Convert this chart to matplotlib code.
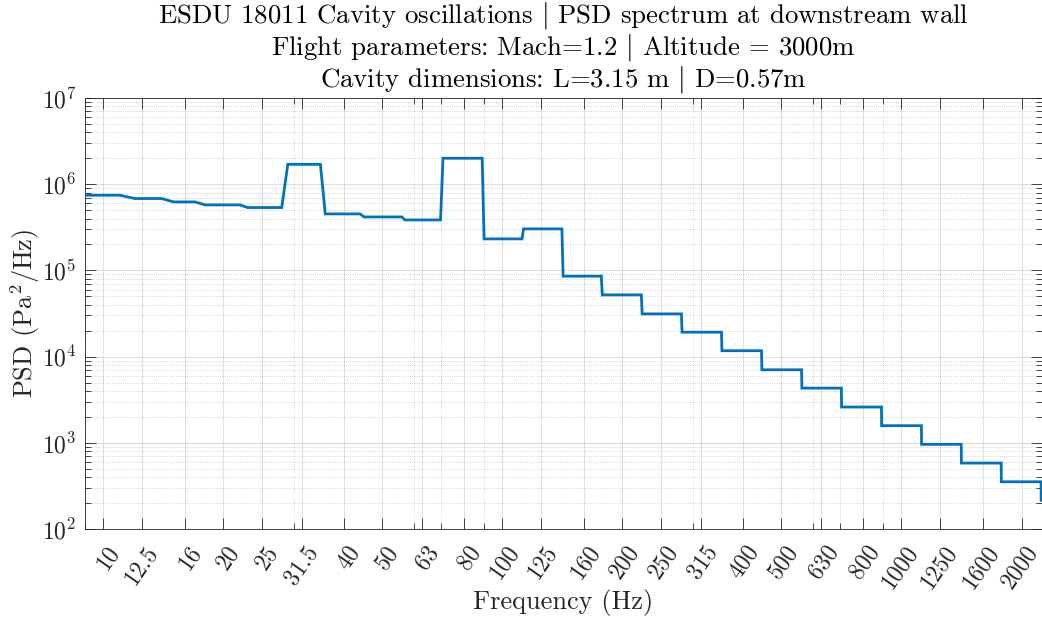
"""ESDU 18011 cavity oscillation PSD, third-octave bands, MATLAB look."""

import matplotlib

matplotlib.use("Agg")
import matplotlib.pyplot as plt
import matplotlib.transforms as mtransforms
import numpy as np
from matplotlib.ticker import LogLocator, NullFormatter

plt.rcParams["font.family"] = "cmr10"
plt.rcParams["mathtext.fontset"] = "cm"
plt.rcParams["axes.formatter.use_mathtext"] = True

# third-octave bands (nominal centre, band index n -> fc = 10^(n/10))
band_labels = ["10", "12.5", "16", "20", "25", "31.5", "40", "50", "63", "80",
               "100", "125", "160", "200", "250", "315", "400", "500", "630",
               "800", "1000", "1250", "1600", "2000", "2500"]
band_index = np.arange(10, 35)
psd_band = [7.45e5, 6.82e5, 6.23e5, 5.75e5, 5.36e5, 1.70e6, 4.52e5, 4.17e5,
            3.85e5, 2.00e6, 2.32e5, 3.03e5, 8.57e4, 5.20e4, 3.13e4, 1.92e4,
            1.17e4, 7.03e3, 4.31e3, 2.60e3, 1.58e3, 9.60e2, 5.82e2, 3.53e2,
            2.15e2]

title_lines = [
    "ESDU 18011 Cavity oscillations $|$ PSD spectrum at downstream wall",
    "Flight parameters: Mach=1.2 $|$ Altitude = 3000m",
    "Cavity dimensions: L=3.15 m $|$ D=0.57m",
]

# spectrum sampled on a 1 Hz grid -> each band spans ceil(lo)..floor(hi)
fc = 10.0 ** (band_index / 10.0)
f_lo = np.ceil(fc * 10 ** (-1 / 20))
f_hi = np.floor(fc * 10 ** (1 / 20))
xs, ys = [], []
for a, b, p in zip(f_lo, f_hi, psd_band):
    xs += [a, b]
    ys += [p, p]

fig = plt.figure(figsize=(10.42, 6.28), dpi=100)
ax = fig.add_axes([85 / 1042, 99 / 628, 957 / 1042, 431 / 628])

ax.plot(xs, ys, color="#0072BD", lw=2.0, solid_joinstyle="miter", zorder=3)

ax.set_xscale("log")
ax.set_yscale("log")
ax.set_xlim(9, 2250)
ax.set_ylim(1e2, 1e7)

tick_c = [float(s) for s in band_labels[:-1]]
ax.set_xticks(tick_c)
ax.set_xticklabels(band_labels[:-1], rotation=55, ha="right",
                   rotation_mode="anchor")
ax.xaxis.set_minor_locator(LogLocator(base=10, subs=np.arange(2, 10)))
ax.xaxis.set_minor_formatter(NullFormatter())
ax.yaxis.set_major_locator(LogLocator(base=10, numticks=10))
ax.yaxis.set_minor_locator(LogLocator(base=10, subs=np.arange(2, 10), numticks=20))
ax.yaxis.set_minor_formatter(NullFormatter())

dark = "#262626"
ax.tick_params(which="both", direction="in", top=True, right=True,
               colors=dark, width=0.6)
ax.tick_params(which="major", length=8, labelsize=17, pad=6)
ax.tick_params(which="minor", length=4.5)
for s in ax.spines.values():
    s.set_color(dark)
    s.set_linewidth(0.6)

# nudge rotated labels like MATLAB places them
shift = mtransforms.ScaledTranslation(3 / 100, -4 / 100, fig.dpi_scale_trans)
for lab in ax.get_xticklabels():
    lab.set_transform(lab.get_transform() + shift)

ax.grid(which="major", color=dark, alpha=0.15, lw=0.7)
ax.grid(which="minor", color=dark, alpha=0.25, lw=0.6, ls=":")
ax.set_axisbelow(True)

ax.set_xlabel("Frequency (Hz)", fontsize=19, color=dark, labelpad=-2.8)
ax.set_ylabel("PSD (Pa$^2$/Hz)", fontsize=19, color=dark, labelpad=0)
ax.set_title("\n".join(title_lines), fontsize=19.3, color="black",
             linespacing=1.06, pad=8)

fig.savefig("out.png", dpi=100, facecolor="white")
